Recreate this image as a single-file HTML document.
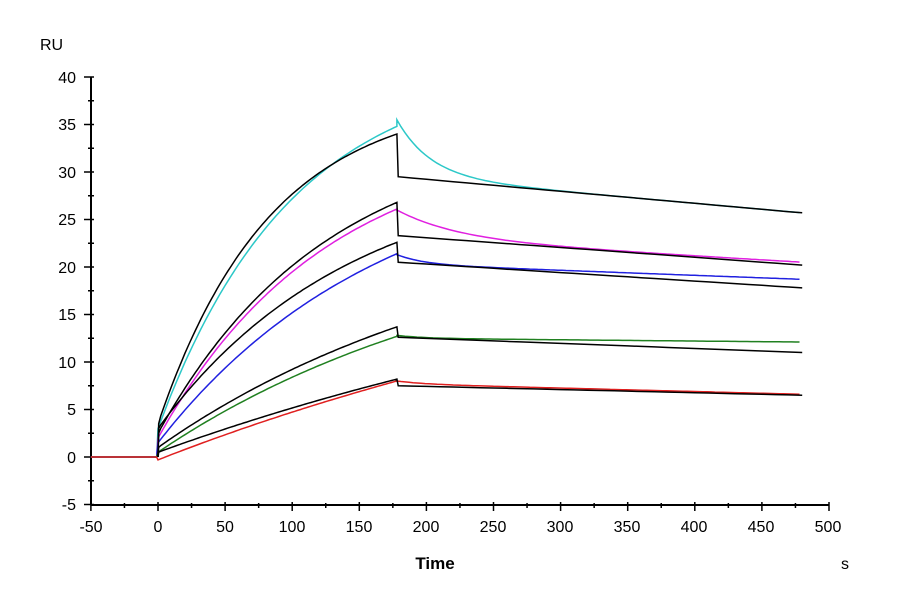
<!DOCTYPE html>
<html><head><meta charset="utf-8"><style>
body{margin:0;background:#fff;}
svg{display:block;font-family:"Liberation Sans",Arial,sans-serif;}
</style></head><body>
<svg id="s" width="900" height="600" viewBox="0 0 900 600" xmlns="http://www.w3.org/2000/svg">
<rect width="900" height="600" fill="#fff"/>
<g stroke="#000" stroke-width="2" fill="none">
<line x1="91" y1="77" x2="91" y2="505"/>
<line x1="91" y1="505" x2="829" y2="505"/>
</g>
<g id="ticks" stroke="#000" stroke-width="1.5"></g>
<g font-size="16" fill="#000" text-anchor="end">
<text x="76" y="83">40</text><text x="76" y="130">35</text><text x="76" y="178">30</text>
<text x="76" y="225">25</text><text x="76" y="273">20</text><text x="76" y="320">15</text>
<text x="76" y="368">10</text><text x="76" y="415">5</text><text x="76" y="463">0</text>
<text x="76" y="510">-5</text>
</g>
<g font-size="16" fill="#000" text-anchor="middle">
<text x="91" y="532">-50</text><text x="158" y="532">0</text><text x="225" y="532">50</text>
<text x="292" y="532">100</text><text x="359" y="532">150</text><text x="426" y="532">200</text>
<text x="493" y="532">250</text><text x="560" y="532">300</text><text x="627" y="532">350</text>
<text x="694" y="532">400</text><text x="761" y="532">450</text><text x="828" y="532">500</text>
</g>
<text x="40" y="50" font-size="16">RU</text>
<text x="435" y="569" font-size="17" font-weight="bold" text-anchor="middle">Time</text>
<text x="845" y="569" font-size="16" text-anchor="middle">s</text>
<g id="curves" fill="none" stroke-width="1.5"></g>
</svg>
<script>
var px=function(t){return 158+1.342*t},py=function(v){return 457-9.5*v};
var T=document.getElementById('ticks'),h='';
for(var v=-5;v<=40;v+=2.5){var y=py(v),maj=(v%5==0);h+='<line x1="'+(maj?84:88)+'" y1="'+y+'" x2="'+(maj?94:94)+'" y2="'+y+'"/>';}
for(var t=-50;t<=500;t+=25){var x=px(t),maj=(t%50==0);h+='<line x1="'+x+'" y1="'+(maj?502:503)+'" x2="'+x+'" y2="'+(maj?511:508)+'"/>';}
T.innerHTML=h;
var data=[
 ['#2cc8c8',3,0.010,34.8,3.5,34,6,25,29.5,25.7,29.5,25.7,0.012],
 ['#e020e0',2,0.008,26.1,2.5,26.8,3,45,23,20.5,23.3,20.2,0.008],
 ['#2020e0',1.5,0.006,21.4,3,22.6,1,20,20.3,18.7,20.5,17.8,0.007],
 ['#208020',0.5,0.004,12.7,1,13.7,0.3,20,12.5,12.1,12.6,11,0.004],
 ['#e02020',-0.3,0.002,8,0.5,8.2,0.3,20,7.7,6.6,7.5,6.5,0.002]
];
var out='';
function assoc(c,k,end,t){var A=(end-c)/(1-Math.exp(-178*k));return c+A*(1-Math.exp(-k*t));}
data.forEach(function(d){
 var p='M'+px(-50)+','+py(0)+' L'+px(-1)+','+py(0);
 for(var t=0;t<=178;t+=2)p+=' L'+px(t).toFixed(1)+','+py(assoc(d[1],d[2],d[3],t)).toFixed(1);
 for(var t=178;t<=480;t+=3){var lin=d[8]+(d[9]-d[8])*(t-178)/302;p+=' L'+px(t).toFixed(1)+','+py(lin+d[6]*Math.exp(-(t-178)/d[7])).toFixed(1);}
 out+='<path d="'+p+'" stroke="'+d[0]+'"/>';
});
data.forEach(function(d){
 var p='M'+px(0)+','+py(0)+' L'+px(0.5)+','+py(d[4]);
 for(var t=2;t<=178;t+=2)p+=' L'+px(t).toFixed(1)+','+py(assoc(d[4],d[12],d[5],t)).toFixed(1);
 p+=' L'+px(179)+','+py(d[10]);
 for(var t=190;t<=480;t+=10)p+=' L'+px(t).toFixed(1)+','+py(d[10]+(d[11]-d[10])*(t-179)/301).toFixed(1);
 out+='<path d="'+p+'" stroke="#000"/>';
});
document.getElementById('curves').innerHTML=out;
</script>
</body></html>
